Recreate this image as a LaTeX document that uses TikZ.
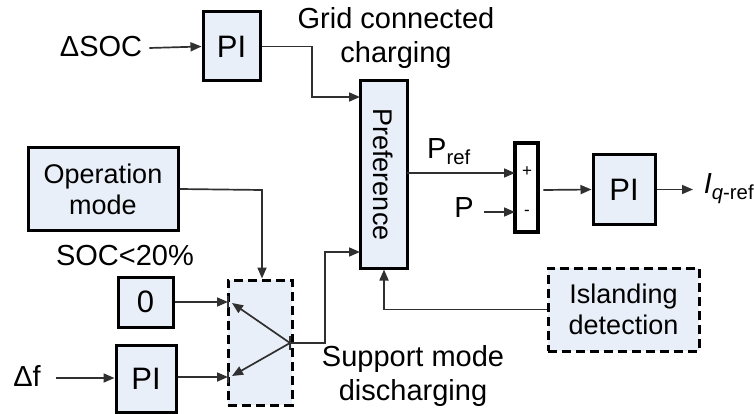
\documentclass[tikz,border=0pt]{standalone}
\usepackage{fontspec}
\setmainfont{Liberation Sans}
\usetikzlibrary{arrows.meta,calc}
\definecolor{boxfill}{HTML}{E9EFF8}
\definecolor{linecol}{HTML}{303030}
\begin{document}
\begin{tikzpicture}[x=1pt,y=-1pt,
  blk/.style={draw=black,line width=3pt,fill=boxfill,inner sep=0pt,align=center,font=\fontsize{27}{31}\selectfont},
  dblk/.style={blk,dash pattern=on 9pt off 5pt},
  lbl/.style={inner sep=0pt,align=center,font=\fontsize{29}{34}\selectfont},
  big/.style={font=\fontsize{31}{31}\selectfont},
  conn/.style={draw=linecol,line width=1.7pt,-{Triangle[length=11pt,width=9pt]}},
  plain/.style={draw=linecol,line width=1.7pt}]
\useasboundingbox (0,0) rectangle (754,414);
% blocks
\node[blk,big,minimum width=57pt,minimum height=69pt] (pi1) at (231.5,46.5) {PI};
\node[blk,minimum width=47pt,minimum height=187pt] (pref) at (383.5,174.5) {\rotatebox{-90}{Preference}};
\node[blk,minimum width=150pt,minimum height=82pt] (opm) at (103,189) {Operation\\mode};
\node[blk,big,minimum width=55pt,minimum height=50pt] (zero) at (145.5,302) {0};
\node[blk,big,minimum width=60pt,minimum height=67pt] (pi2) at (146,378.5) {PI};
\node[dblk,minimum width=64pt,minimum height=125pt] (sw) at (260,342.5) {};
\node[dblk,minimum width=151pt,minimum height=83pt] (isl) at (623.5,309.5) {Islanding\\detection};
\node[draw=black,line width=4.5pt,fill=white,minimum width=23pt,minimum height=89pt,inner sep=0pt] (sum) at (526.5,187.5) {};
\node[blk,big,minimum width=62pt,minimum height=69pt] (pi3) at (624,189.5) {PI};
% labels
\node[lbl] (dsoc) at (101,47) {ΔSOC};
\node[lbl] (grid) at (396,38) {Grid connected\\charging};
\node[lbl] (prefl) at (449,152) {P\textsubscript{ref}};
\node[lbl] (pl) at (464,208) {P};
\node[lbl] (iq) at (729,189) {\textit{I}\textsubscript{\textit{q}-ref}};
\node[lbl] (soc) at (125,256) {SOC<20\%};
\node[lbl] (df) at (27,376) {Δf};
\node[lbl] (sup) at (413,376) {Support mode\\discharging};
\node[inner sep=0pt,font=\fontsize{17}{17}\selectfont] (plus) at (527,172) {+};
\node[inner sep=0pt,font=\fontsize{17}{17}\selectfont] (minus) at (527,213) {-};
% switch internals
\coordinate (in1) at (228,302);
\coordinate (in2) at (228,377);
\coordinate (piv) at (290,343);
\draw[conn] (piv) -- (232,303);
\draw[conn] (piv) -- (232,376);
\draw[plain] (228,296) -- (228,308);
\draw[plain] (228,371) -- (228,383);
\draw[plain] (290,336) -- (290,350);
% connectors
\draw[conn] (dsoc.east) ++(7,1) -- (pi1.west);
\draw[conn] (pi1.east) -- (312,46.5) |- (360,97);
\draw[conn] (opm.east) -- (262,190) -- (sw.north -| 262,0);
\draw[conn] (zero.east) -- (in1);
\draw[conn] (df.east) ++(15,2) coordinate (dfs) -- (pi2.west |- dfs);
\draw[conn] (pi2.east |- in2) -- (in2);
\draw[conn] (piv) -- (325,343) |- (360,252);
\draw[conn] (isl.west) -- (384,309.5) -- (pref.south -| 384,0);
\draw[conn] (407,173) -- (515,173);
\draw[conn] (484,212) -- (515,212);
\draw[conn] (sum.east) ++(3,2.5) -- (pi3.west);
\draw[conn] (pi3.east) -- (693,189.5);
\end{tikzpicture}
\end{document}
